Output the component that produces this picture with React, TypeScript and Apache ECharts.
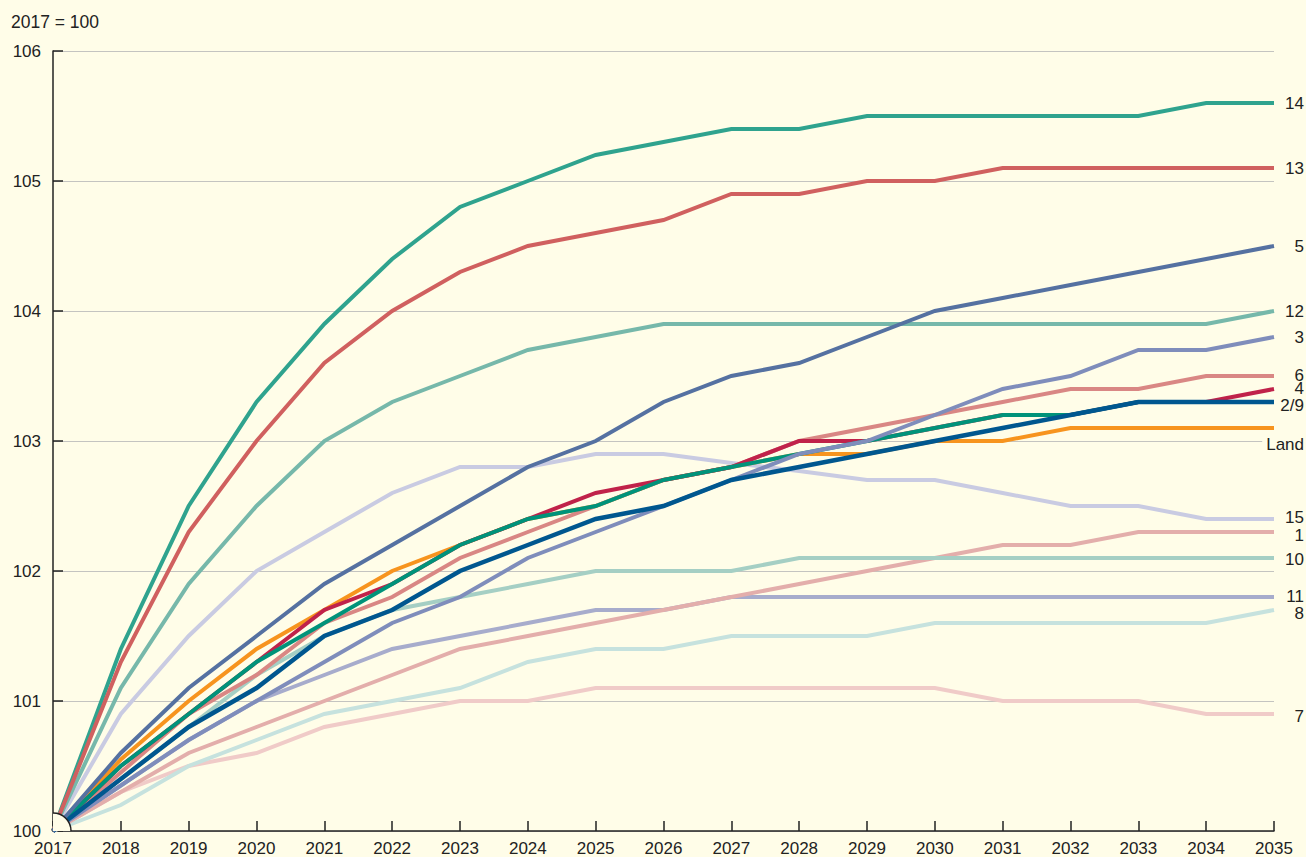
import React, { useEffect, useRef } from "react";
import * as echarts from "echarts";

const years = ["2017","2018","2019","2020","2021","2022","2023","2024","2025","2026","2027","2028","2029","2030","2031","2032","2033","2034","2035"];
const yTicks = [100, 101, 102, 103, 104, 105, 106];

const s14 = [100, 101.4, 102.5, 103.3, 103.9, 104.4, 104.8, 105.0, 105.2, 105.3, 105.4, 105.4, 105.5, 105.5, 105.5, 105.5, 105.5, 105.6, 105.6];
const s13 = [100, 101.3, 102.3, 103.0, 103.6, 104.0, 104.3, 104.5, 104.6, 104.7, 104.9, 104.9, 105.0, 105.0, 105.1, 105.1, 105.1, 105.1, 105.1];
const s5 = [100, 100.6, 101.1, 101.5, 101.9, 102.2, 102.5, 102.8, 103.0, 103.3, 103.5, 103.6, 103.8, 104.0, 104.1, 104.2, 104.3, 104.4, 104.5];
const s12 = [100, 101.1, 101.9, 102.5, 103.0, 103.3, 103.5, 103.7, 103.8, 103.9, 103.9, 103.9, 103.9, 103.9, 103.9, 103.9, 103.9, 103.9, 104.0];
const s3 = [100, 100.35, 100.7, 101.0, 101.3, 101.6, 101.8, 102.1, 102.3, 102.5, 102.7, 102.9, 103.0, 103.2, 103.4, 103.5, 103.7, 103.7, 103.8];
const s6 = [100, 100.45, 100.9, 101.2, 101.6, 101.8, 102.1, 102.3, 102.5, 102.7, 102.8, 103.0, 103.1, 103.2, 103.3, 103.4, 103.4, 103.5, 103.5];
const s4 = [100, 100.5, 100.9, 101.3, 101.7, 101.9, 102.2, 102.4, 102.6, 102.7, 102.8, 103.0, 103.0, 103.1, 103.2, 103.2, 103.3, 103.3, 103.4];
const s2 = [100, 100.5, 100.9, 101.3, 101.6, 101.9, 102.2, 102.4, 102.5, 102.7, 102.8, 102.9, 103.0, 103.1, 103.2, 103.2, 103.3, 103.3, 103.3];
const s9 = [100, 100.4, 100.8, 101.1, 101.5, 101.7, 102.0, 102.2, 102.4, 102.5, 102.7, 102.8, 102.9, 103.0, 103.1, 103.2, 103.3, 103.3, 103.3];
const sLand = [100, 100.55, 101.0, 101.4, 101.7, 102.0, 102.2, 102.4, 102.5, 102.7, 102.8, 102.9, 102.9, 103.0, 103.0, 103.1, 103.1, 103.1, 103.1];
const s15 = [100, 100.9, 101.5, 102.0, 102.3, 102.6, 102.8, 102.8, 102.9, 102.9, 102.83, 102.77, 102.7, 102.7, 102.6, 102.5, 102.5, 102.4, 102.4];
const s1 = [100, 100.3, 100.6, 100.8, 101.0, 101.2, 101.4, 101.5, 101.6, 101.7, 101.8, 101.9, 102.0, 102.1, 102.2, 102.2, 102.3, 102.3, 102.3];
const s10 = [100, 100.4, 100.8, 101.2, 101.5, 101.7, 101.8, 101.9, 102.0, 102.0, 102.0, 102.1, 102.1, 102.1, 102.1, 102.1, 102.1, 102.1, 102.1];
const s11 = [100, 100.35, 100.7, 101.0, 101.2, 101.4, 101.5, 101.6, 101.7, 101.7, 101.8, 101.8, 101.8, 101.8, 101.8, 101.8, 101.8, 101.8, 101.8];
const s8 = [100, 100.2, 100.5, 100.7, 100.9, 101.0, 101.1, 101.3, 101.4, 101.4, 101.5, 101.5, 101.5, 101.6, 101.6, 101.6, 101.6, 101.6, 101.7];
const s7 = [100, 100.3, 100.5, 100.6, 100.8, 100.9, 101.0, 101.0, 101.1, 101.1, 101.1, 101.1, 101.1, 101.1, 101.0, 101.0, 101.0, 100.9, 100.9];

// drawing order: bottom first; dy = vertical nudge of the end label
const seriesDefs = [
  { name: "7", label: "7", data: s7, color: "#F0CBC8", dy: 2 },
  { name: "8", label: "8", data: s8, color: "#C6E2DE", dy: 3 },
  { name: "11", label: "11", data: s11, color: "#A7ACCC", dy: -1 },
  { name: "1", label: "1", data: s1, color: "#E3AEAB", dy: 3 },
  { name: "10", label: "10", data: s10, color: "#A5CFC4", dy: 1 },
  { name: "15", label: "15", data: s15, color: "#C9CBE2", dy: -2 },
  { name: "12", label: "12", data: s12, color: "#76B8AA", dy: 0 },
  { name: "14", label: "14", data: s14, color: "#2FA38E", dy: 0 },
  { name: "13", label: "13", data: s13, color: "#D0605F", dy: 0 },
  { name: "Land", label: "Land", data: sLand, color: "#F7941E", dy: 16 },
  { name: "6", label: "6", data: s6, color: "#D98784", dy: -1 },
  { name: "4", label: "4", data: s4, color: "#C0224A", dy: -1 },
  { name: "2", label: "", data: s2, color: "#00937A", dy: 0 },
  { name: "3", label: "3", data: s3, color: "#7F8DBB", dy: 0 },
  { name: "9", label: "2/9", data: s9, color: "#00578F", dy: 3 },
  { name: "5", label: "5", data: s5, color: "#5571A1", dy: 0 },
];

const BG = "#FFFDE8";
const TXT = "#222222";
const FONT = "'Liberation Sans', Arial, sans-serif";
const FS = 17;

export default function App() {
  const ref = useRef<HTMLDivElement>(null);
  useEffect(() => {
    if (!ref.current) return;
    const chart = echarts.init(ref.current, undefined, { renderer: "svg" });
    const lineSeries = seriesDefs.map((s) => ({
      type: "line",
      name: s.name,
      data: s.data,
      symbol: "none",
      z: 2,
      lineStyle: { color: s.color, width: s.name === "9" ? 4.5 : 4, join: "miter", cap: "butt" },
      itemStyle: { color: s.color },
      emphasis: { disabled: true },
      endLabel: {
        show: s.label !== "",
        formatter: () => s.label,
        color: TXT,
        fontSize: FS,
        fontFamily: FONT,
        align: "right",
        verticalAlign: "middle",
        distance: 5,
        offset: [25, s.dy],
        backgroundColor: s.name === "Land" ? BG : "transparent",
        padding: s.name === "Land" ? [0, 0, 0, 4] : 0,
      },
    }));
    const breakSeries = {
      type: "custom",
      name: "break",
      z: 20,
      silent: true,
      clip: false,
      data: [[0, yTicks[0]]],
      renderItem: (_params: any, api: any) => {
        const p = api.coord([api.value(0), api.value(1)]);
        const shape = { cx: p[0], cy: p[1], r: 18, startAngle: -Math.PI / 2, endAngle: 0 };
        return {
          type: "group",
          children: [
            { type: "sector", shape, style: { fill: BG, stroke: null } },
            { type: "arc", shape, style: { stroke: TXT, lineWidth: 1.5, fill: null } },
          ],
        };
      },
    };
    const option: any = {
      animation: false,
      backgroundColor: BG,
      textStyle: { fontFamily: FONT, color: TXT },
      title: {
        text: "2017 = 100",
        left: 6,
        top: 8,
        textStyle: { fontSize: 17.5, fontWeight: "normal", color: TXT, fontFamily: FONT },
      },
      grid: { left: 53, right: 32, top: 51, bottom: 26, containLabel: false },
      xAxis: {
        type: "category",
        data: years,
        boundaryGap: false,
        axisLine: { lineStyle: { color: TXT, width: 1.5 } },
        axisTick: { inside: true, length: 10, lineStyle: { color: TXT, width: 1.5 } },
        axisLabel: { color: TXT, fontSize: FS, margin: 9, fontFamily: FONT, interval: 0 },
        splitLine: { show: false },
      },
      yAxis: {
        type: "value",
        min: yTicks[0],
        max: yTicks[yTicks.length - 1],
        interval: 1,
        axisLine: { show: true, lineStyle: { color: TXT, width: 1.5 } },
        axisTick: { show: true, inside: true, length: 10, lineStyle: { color: TXT, width: 1.5 } },
        axisLabel: { color: TXT, fontSize: FS, margin: 12, fontFamily: FONT },
        splitLine: { show: true, lineStyle: { color: "#C4C4C0", width: 1 } },
      },
      series: [...lineSeries, breakSeries],
    };
    chart.setOption(option);
    return () => chart.dispose();
  }, []);
  return (
    <div
      ref={ref}
      style={{ position: "fixed", left: 0, top: 0, width: 1306, height: 857 }}
    />
  );
}
